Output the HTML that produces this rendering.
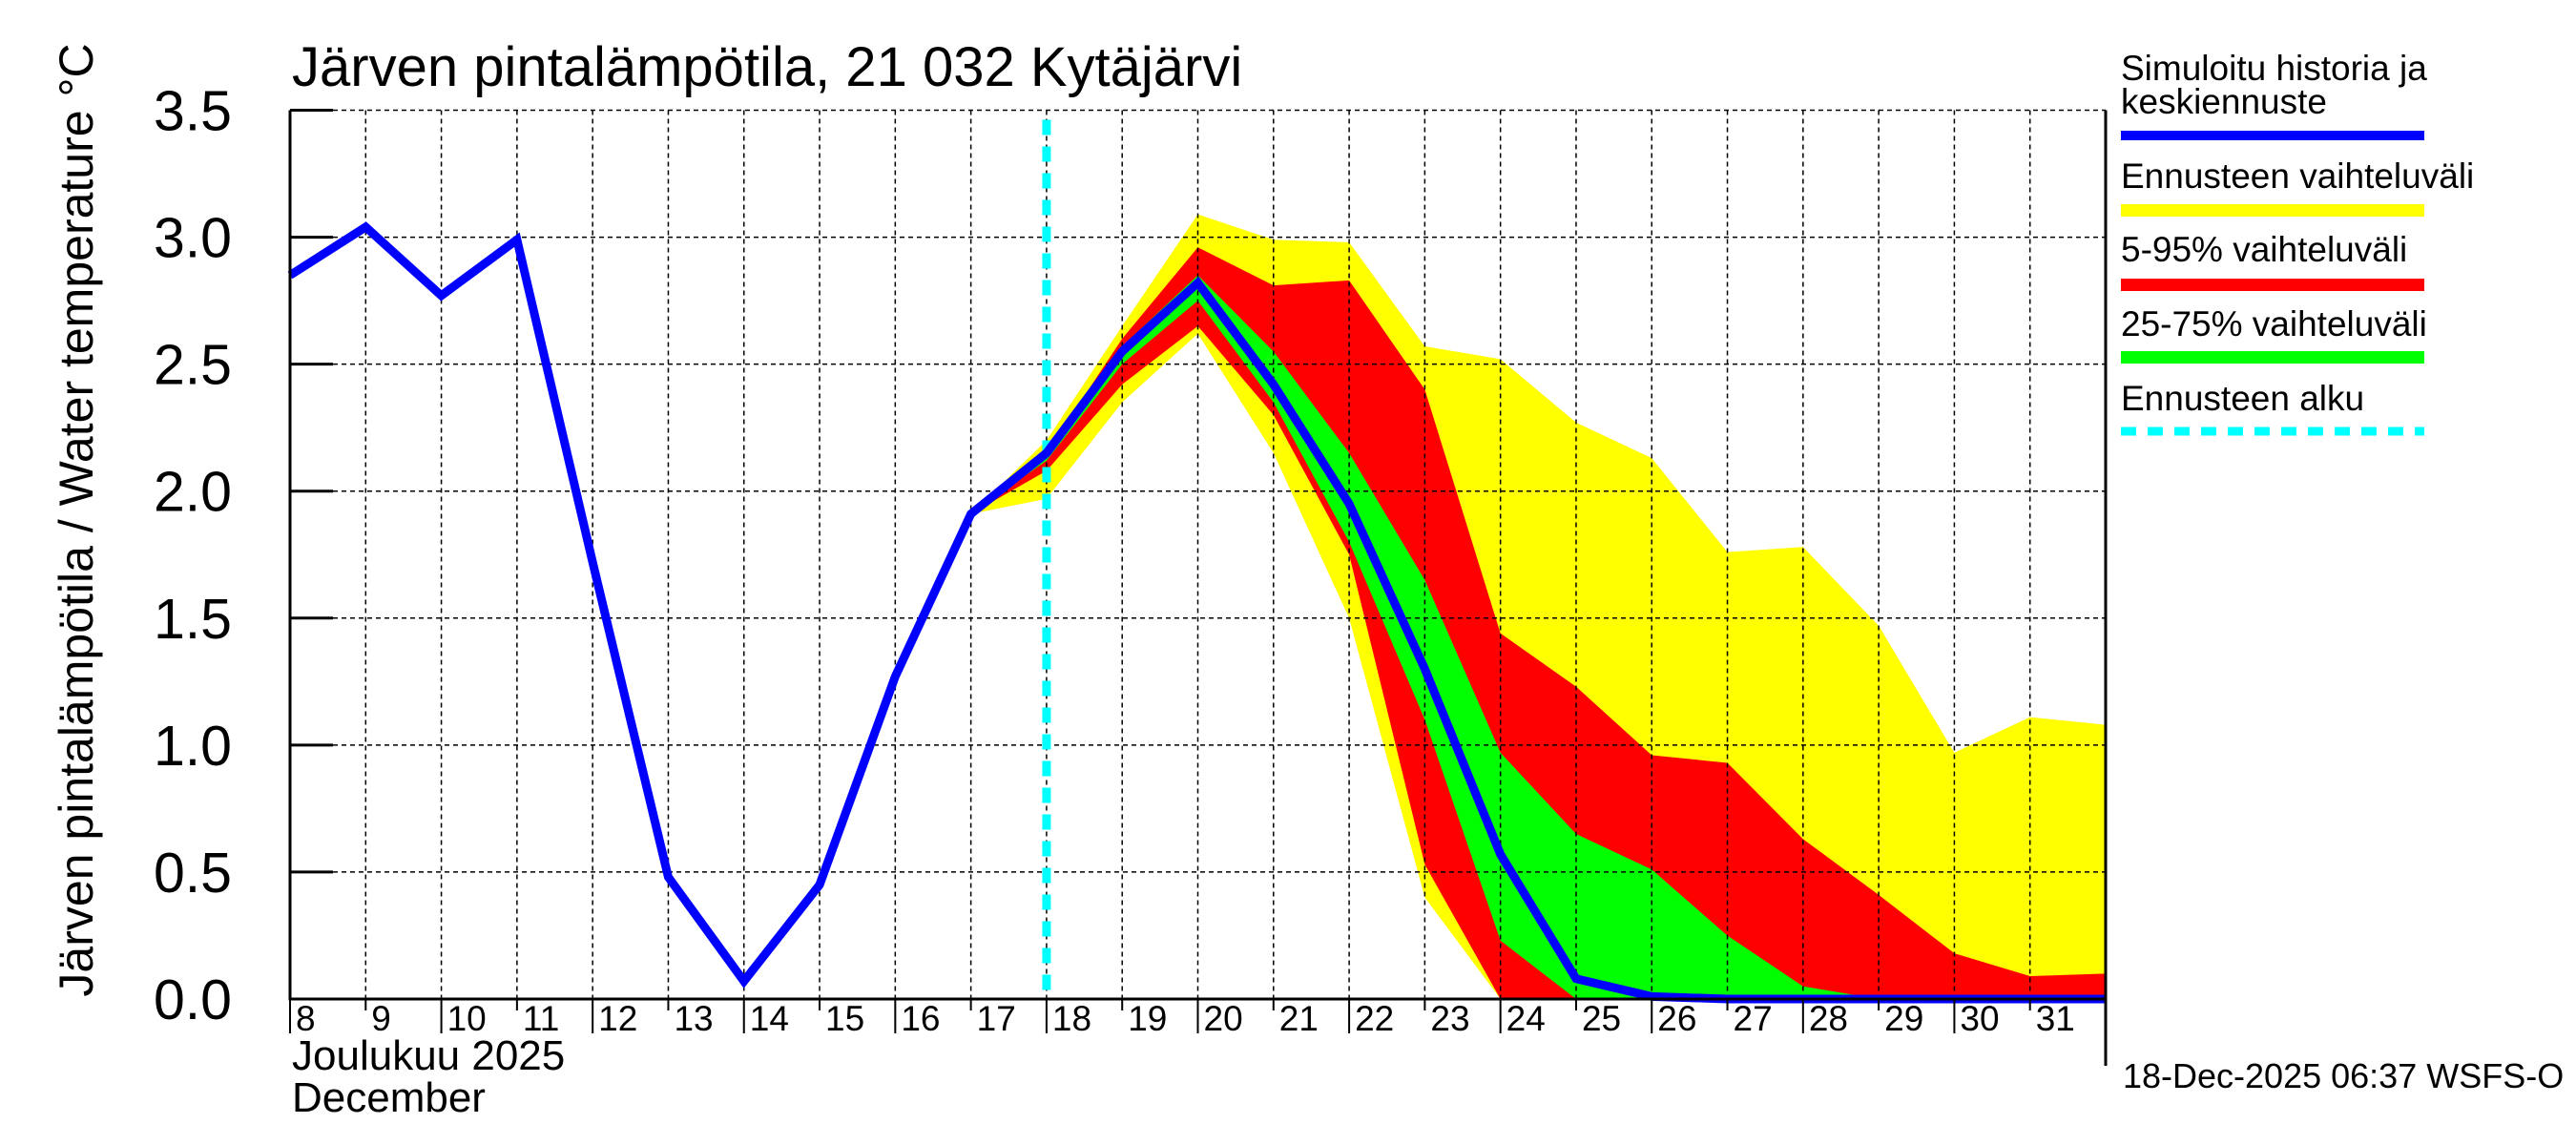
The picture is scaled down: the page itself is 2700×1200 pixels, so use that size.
<!DOCTYPE html>
<html><head><meta charset="utf-8"><style>html,body{margin:0;padding:0;background:#fff}svg{display:block}text{font-family:"Liberation Sans",sans-serif}</style></head>
<body>
<svg id="c" width="2700" height="1200" viewBox="0 0 2700 1200" xmlns="http://www.w3.org/2000/svg">
<text x="306" y="90" font-size="58">Järven pintalämpötila, 21 032 Kytäjärvi</text>
<text transform="translate(97,545) rotate(-90)" text-anchor="middle" font-size="50">Järven pintalämpötila / Water temperature °C</text>
<g id="bands"></g><g id="grid"></g><g id="marks"></g><g id="axes"></g>
<text x="306" y="1121" font-size="44">Joulukuu  2025</text>
<text x="306" y="1165" font-size="44">December</text>
<text x="2225" y="1140" font-size="36">18-Dec-2025 06:37 WSFS-O</text>
<g font-size="37">
<text x="2223" y="84">Simuloitu historia ja</text>
<text x="2223" y="119">keskiennuste</text>
<rect x="2223" y="137" width="318" height="10" fill="#0000ff"/>
<text x="2223" y="197">Ennusteen vaihteluväli</text>
<rect x="2223" y="214" width="318" height="13" fill="#ffff00"/>
<text x="2223" y="274">5-95% vaihteluväli</text>
<rect x="2223" y="292" width="318" height="13" fill="#ff0000"/>
<text x="2223" y="352">25-75% vaihteluväli</text>
<rect x="2223" y="368" width="318" height="13" fill="#00ff00"/>
<text x="2223" y="430">Ennusteen alku</text>
<line x1="2223" y1="452" x2="2541" y2="452" stroke="#00ffff" stroke-width="9" stroke-dasharray="16,12"/>
</g>
</svg>
<script>
const days = [8,9,10,11,12,13,14,15,16,17,18,19,20,21,22,23,24,25,26,27,28,29,30,31,32];
const simValues = [2.85,3.04,2.77,2.99,1.72,0.48,0.07,0.45,1.27,1.91,2.15,2.55,2.82,2.42,1.95,1.3,0.57,0.08,0.01,0,0,0,0,0,0];
const bandDays = [17,18,19,20,21,22,23,24,25,26,27,28,29,30,31,32];
const yellowHi = [1.91,2.2,2.65,3.09,2.99,2.98,2.57,2.52,2.27,2.13,1.76,1.78,1.47,0.97,1.11,1.08];
const yellowLo = [1.91,1.97,2.35,2.62,2.15,1.5,0.4,0,0,0,0,0,0,0,0,0];
const redHi = [1.91,2.15,2.6,2.96,2.81,2.83,2.4,1.44,1.23,0.96,0.93,0.63,0.41,0.18,0.09,0.1];
const redLo = [1.91,2.08,2.42,2.65,2.3,1.75,0.53,0,0,0,0,0,0,0,0,0];
const greenHi = [1.91,2.14,2.57,2.85,2.55,2.15,1.65,0.97,0.65,0.51,0.25,0.05,0,0,0,0];
const greenLo = [1.91,2.12,2.5,2.75,2.35,1.8,1.1,0.23,0,0,0,0,0,0,0,0];
const yTicks = [0,0.5,1,1.5,2,2.5,3,3.5];
const xLabels = [8,9,10,11,12,13,14,15,16,17,18,19,20,21,22,23,24,25,26,27,28,29,30,31];
const forecastDay = 18;
const L=304,R=2207,T=115.5,B=1047,D0=8,D1=32,YMAX=3.5;
const X=d=>L+(d-D0)*(R-L)/(D1-D0);
const Y=v=>B-v*(B-T)/YMAX;
const NS='http://www.w3.org/2000/svg';
function mk(tag,attrs,parent){const e=document.createElementNS(NS,tag);for(const k in attrs)e.setAttribute(k,attrs[k]);document.getElementById(parent).appendChild(e);return e;}
function band(hi,lo,color,name){
  let p=bandDays.map((d,i)=>X(d)+','+Y(hi[i]));
  for(let i=bandDays.length-1;i>=0;i--)p.push(X(bandDays[i])+','+Y(lo[i]));
  const e=mk('polygon',{points:p.join(' '),fill:color},'bands');
  
  
}
band(yellowHi,yellowLo,'#ffff00','band-range');
band(redHi,redLo,'#ff0000','band-5-95');
band(greenHi,greenLo,'#00ff00','band-25-75');
yTicks.forEach(v=>{
  const g=mk('line',{x1:L,x2:R,y1:Y(v),y2:Y(v),stroke:'#000','stroke-width':1.5,'stroke-dasharray':'5,4'},'grid');
  
  
  const t=mk('line',{x1:L,x2:L+45,y1:Y(v),y2:Y(v),stroke:'#000','stroke-width':3},'axes');
  
  
  const tx=mk('text',{x:243,y:Y(v)+21,'text-anchor':'end','font-size':59},'axes');
  tx.textContent=v.toFixed(1);
  
  
});
xLabels.forEach(d=>{
  const g=mk('line',{x1:X(d),x2:X(d),y1:T,y2:B,stroke:'#000','stroke-width':1.5,'stroke-dasharray':'5,4'},'grid');
  
  
  const t=mk('line',{x1:X(d),x2:X(d),y1:B,y2:B+(d%2?12:36),stroke:'#000','stroke-width':2},'axes');
  
  
  const tx=mk('text',{x:X(d)+6,y:1080,'font-size':37},'axes');
  tx.textContent=d;
  
  
});
const ax=mk('path',{d:`M${L},${T} L${L},${B} L${R},${B} M${R},${T} L${R},1117 M${L},${T} L${L+45},${T}`,stroke:'#000','stroke-width':3,fill:'none'},'axes');


const fl=mk('line',{x1:X(forecastDay),x2:X(forecastDay),y1:T+10,y2:B,stroke:'#00ffff','stroke-width':9,'stroke-dasharray':'16,12'},'marks');


const sl=mk('polyline',{points:days.map((d,i)=>X(d)+','+Y(simValues[i])).join(' '),fill:'none',stroke:'#0000ff','stroke-width':9,'stroke-linejoin':'miter'},'marks');


</script>
</body></html>
